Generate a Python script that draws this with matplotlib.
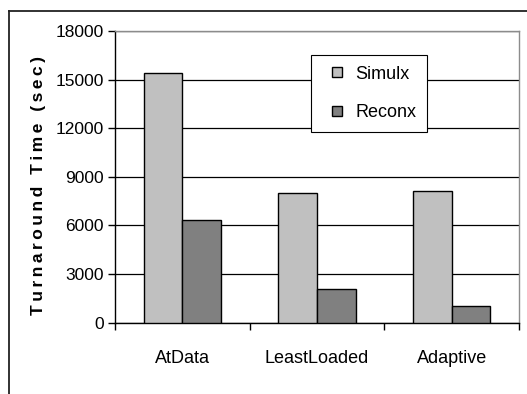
import matplotlib
matplotlib.use("Agg")
import matplotlib.pyplot as plt
import numpy as np
from matplotlib.lines import Line2D

# Turnaround time per scheduling policy
policies = ["AtData", "LeastLoaded", "Adaptive"]
simulx = [15400, 8000, 8150]
reconx = [6350, 2050, 1050]
yticks = [0, 3000, 6000, 9000, 12000, 15000, 18000]

plt.rcParams["font.family"] = ["Liberation Sans", "DejaVu Sans"]

fig = plt.figure(figsize=(5.27, 3.94), dpi=100)
ax = fig.add_axes([0.2182, 0.181, 0.7666, 0.7403])

x = np.arange(len(policies))
w = 0.286
ax.bar(x - w / 2, simulx, w, color="#C0C0C0", edgecolor="black", linewidth=1.0, zorder=3)
ax.bar(x + w / 2, reconx, w, color="#808080", edgecolor="black", linewidth=1.0, zorder=3)

ax.set_xlim(-0.5, 2.5)
ax.set_ylim(0, 18000)
ax.set_yticks(yticks)
ax.set_yticklabels([str(v) for v in yticks], fontsize=12.5)
ax.yaxis.grid(True, color="black", linewidth=0.9, zorder=0)
ax.set_axisbelow(True)

# category labels at centers, tick marks between groups
ax.set_xticks(x)
ax.set_xticklabels(policies, fontsize=13)
ax.tick_params(axis="x", which="major", length=0, pad=20)
ax.set_xticks([-0.5, 0.5, 1.5, 2.5], minor=True)
ax.tick_params(axis="x", which="minor", length=5, width=1, direction="out")
ax.tick_params(axis="y", length=5, width=1, direction="out", pad=3)

for side in ["left", "bottom"]:
    ax.spines[side].set_color("black")
    ax.spines[side].set_linewidth(1.0)
for side in ["top", "right"]:
    ax.spines[side].set_color("#8c8c8c")
    ax.spines[side].set_linewidth(1.0)

# letter-spaced axis title
thin = "\u2009"
title = (thin + " " + thin).join(thin.join(word) for word in ["Turnaround", "Time", "(sec)"])
ax.set_ylabel(title, fontsize=12.5, fontweight="bold",
              family=["Liberation Sans", "DejaVu Sans"])
ax.yaxis.set_label_coords(-0.17, 0.47)

handles = [
    Line2D([], [], marker="s", linestyle="none", markersize=7,
           markerfacecolor="#C0C0C0", markeredgecolor="black"),
    Line2D([], [], marker="s", linestyle="none", markersize=7,
           markerfacecolor="#808080", markeredgecolor="black"),
]
leg = ax.legend(handles, ["Simulx", "Reconx"], loc="upper left",
                bbox_to_anchor=(0.485, 0.918), fontsize=13, frameon=True,
                fancybox=False, shadow=False, borderpad=0.6, labelspacing=1.2,
                handlelength=1.7, handletextpad=0.15, borderaxespad=0)
leg.get_frame().set_edgecolor("black")
leg.get_frame().set_linewidth(0.8)
leg.get_frame().set_alpha(1)

# outer chart frame, open on the right and bottom
fig.add_artist(Line2D([9 / 527, 9 / 527], [0, 1 - 11 / 394], color="#222222",
                      linewidth=1.3, transform=fig.transFigure))
fig.add_artist(Line2D([9 / 527, 1], [1 - 11 / 394, 1 - 11 / 394], color="#222222",
                      linewidth=1.3, transform=fig.transFigure))

fig.savefig("out.png", dpi=100)
